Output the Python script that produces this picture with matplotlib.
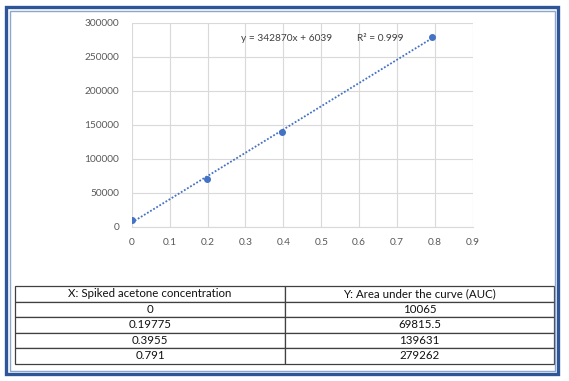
import numpy as np
import matplotlib
matplotlib.use('Agg')
from matplotlib import pyplot as plt
from matplotlib.patches import Rectangle

plt.rcParams['font.family'] = ['Lato', 'DejaVu Sans']

# data
conc = [0, 0.19775, 0.3955, 0.791]
auc = [10065, 69815.5, 139631, 279262]
slope, intercept = 342870, 6039
col_labels = ['X: Spiked acetone concentration', 'Y: Area under the curve (AUC)']
auc_labels = ['10065', '69815.5', '139631', '279262']
conc_labels = ['0', '0.19775', '0.3955', '0.791']

W, H = 569, 381
fig = plt.figure(figsize=(W / 100, H / 100), dpi=100)

# double border
fig.patches.append(Rectangle((6 / W, 7 / H), (558 - 6) / W, (375 - 7 - 1) / H, transform=fig.transFigure,
                             fill=False, edgecolor='#2e5597', linewidth=2.4))
fig.patches.append(Rectangle((9.5 / W, 10 / H), (554.5 - 9.5) / W, (371 - 10 - 1) / H, transform=fig.transFigure,
                             fill=False, edgecolor='#8da6cc', linewidth=1.0))

ax = fig.add_axes([131.7 / W, 1 - 226.7 / H, (473 - 131.7) / W, (226.7 - 23) / H])
xx = np.array([0, conc[-1]])
ax.plot(xx, slope * xx + intercept, linestyle=(0, (1, 1)), color='#4472c4', linewidth=1.3)
ax.plot(conc, auc, 'o', color='#4472c4', markersize=4)
ax.set_xlim(0, 0.9)
ax.set_ylim(0, 300000)
ax.set_xticks(np.arange(0, 0.91, 0.1))
ax.set_xticklabels(['0', '0.1', '0.2', '0.3', '0.4', '0.5', '0.6', '0.7', '0.8', '0.9'])
ax.set_yticks(np.arange(0, 300001, 50000))
ax.set_yticklabels([str(v) for v in range(0, 300001, 50000)])
ax.grid(color='#d9d9d9', linewidth=0.8)
ax.set_axisbelow(True)
for s in ax.spines.values():
    s.set_visible(False)
ax.spines['bottom'].set_visible(True)
ax.spines['bottom'].set_color('#d9d9d9')
ax.tick_params(length=0, labelsize=7.3, labelcolor='#595959', pad=8)
ax.tick_params(axis='y', pad=9)

ax.text(0.321, 0.925, f'y = {slope}x + {intercept}', transform=ax.transAxes,
        fontsize=7.3, color='#404040', va='center')
ax.text(0.66, 0.925, 'R² = 0.999', transform=ax.transAxes,
        fontsize=7.3, color='#404040', va='center')

# table
tax = fig.add_axes([15 / W, 1 - 363.7 / H, (554 - 15) / W, (363.7 - 286) / H])
tax.axis('off')
cells = [[c, a] for c, a in zip(conc_labels, auc_labels)]
tbl = tax.table(cellText=cells, colLabels=col_labels, cellLoc='center',
                bbox=[0, 0, 1, 1], colWidths=[270, 269])
tbl.auto_set_font_size(False)
tbl.set_fontsize(8.3)
for key, cell in tbl.get_celld().items():
    cell.set_edgecolor('#404040')
    cell.set_linewidth(0.9)
    cell.get_text().set_color('#111111')

plt.savefig('out.png', dpi=100)
